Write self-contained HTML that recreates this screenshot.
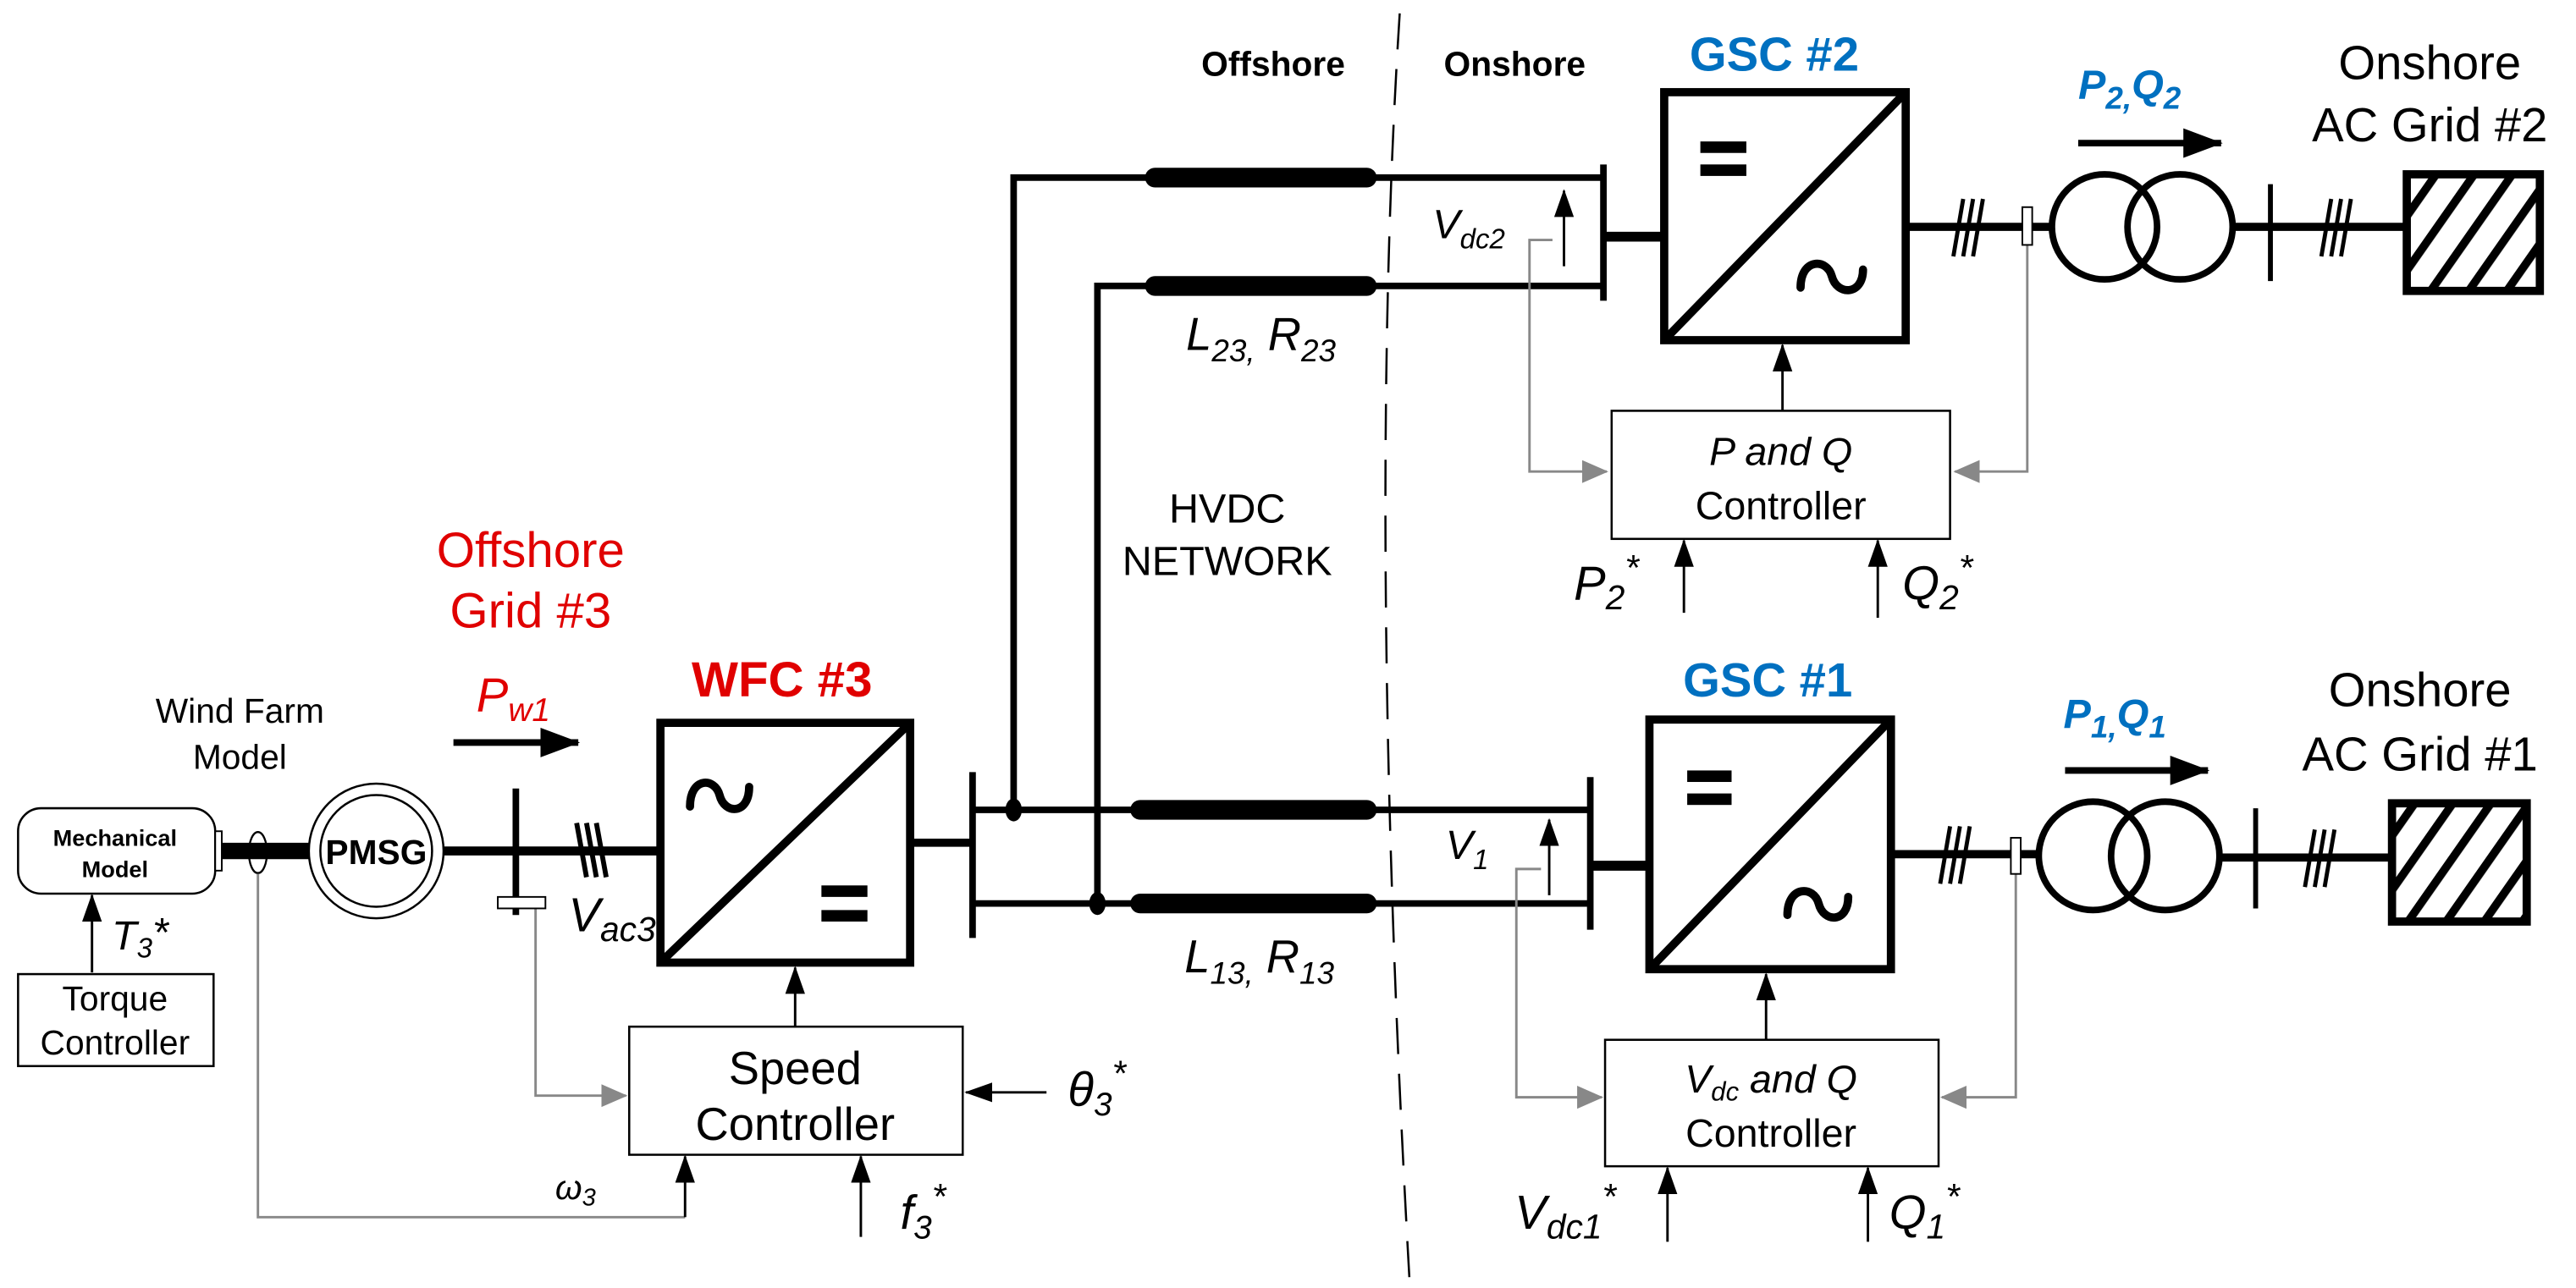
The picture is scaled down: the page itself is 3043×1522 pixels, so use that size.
<!DOCTYPE html>
<html><head><meta charset="utf-8"><style>
html,body{margin:0;padding:0;background:#fff;}
svg{display:block;}
text{font-family:"Liberation Sans",Arial,sans-serif;}
</style></head><body>
<svg width="3043" height="1522" viewBox="0 0 1568 784" xmlns="http://www.w3.org/2000/svg">
<defs>
<marker id="ab" markerWidth="17" markerHeight="12" refX="16" refY="6" orient="auto" markerUnits="userSpaceOnUse"><path d="M0,0 L17,6 L0,12 z" fill="#000"/></marker>
<marker id="ab2" markerWidth="24" markerHeight="18" refX="23" refY="9" orient="auto" markerUnits="userSpaceOnUse"><path d="M0,0 L24,9 L0,18 z" fill="#000"/></marker>
<marker id="ag" markerWidth="16" markerHeight="14" refX="15" refY="7" orient="auto" markerUnits="userSpaceOnUse"><path d="M0,0 L16,7 L0,14 z" fill="#888"/></marker>
<pattern id="hatch" width="19" height="19" patternUnits="userSpaceOnUse" patternTransform="rotate(35)"><rect width="19" height="19" fill="#fff"/><rect width="5" height="19" fill="#000"/></pattern>
</defs>

<path d="M852 8 Q832 320 858 780" fill="none" stroke="#000" stroke-width="1.3" stroke-dasharray="22,12"/>
<text x="775" y="46" font-size="21" font-weight="bold" text-anchor="middle">Offshore</text>
<text x="922" y="46" font-size="21" font-weight="bold" text-anchor="middle">Onshore</text>

<g stroke="#000" stroke-width="4" fill="none">
<path d="M976 108 L617 108 L617 493"/>
<path d="M976 174 L668 174 L668 550"/>
<path d="M592 493 L968 493"/>
<path d="M592 550 L968 550"/>
</g>
<g stroke="#000" stroke-width="12" stroke-linecap="round">
<line x1="703" y1="108" x2="832" y2="108"/>
<line x1="703" y1="174" x2="832" y2="174"/>
<line x1="694" y1="493" x2="832" y2="493"/>
<line x1="694" y1="550" x2="832" y2="550"/>
</g>
<ellipse cx="617" cy="493" rx="5" ry="7"/>
<ellipse cx="668" cy="550" rx="5" ry="7"/>
<text x="722" y="213" font-size="28" font-style="italic">L<tspan font-size="19" dy="7">23,</tspan><tspan dy="-7"> R</tspan><tspan font-size="19" dy="7">23</tspan></text>
<text x="721" y="592" font-size="28" font-style="italic">L<tspan font-size="19" dy="7">13,</tspan><tspan dy="-7"> R</tspan><tspan font-size="19" dy="7">13</tspan></text>
<text x="747" y="318" font-size="25" text-anchor="middle">HVDC</text>
<text x="747" y="350" font-size="25" text-anchor="middle">NETWORK</text>

<!-- GSC #2 -->
<text x="1080" y="43" font-size="29" font-weight="bold" fill="#0070c0" text-anchor="middle">GSC #2</text>
<line x1="976" y1="100" x2="976" y2="183" stroke="#000" stroke-width="4"/>
<line x1="976" y1="144" x2="1011" y2="144" stroke="#000" stroke-width="6"/>
<rect x="1013" y="56" width="147" height="151" fill="none" stroke="#000" stroke-width="5"/>
<line x1="1014" y1="206" x2="1159" y2="57" stroke="#000" stroke-width="5"/>
<rect x="1035" y="86" width="28" height="7"/><rect x="1035" y="100" width="28" height="7"/>
<path d="M1096 175 C1096 157 1112 157 1115 168 C1118 180 1134 180 1134 164" fill="none" stroke="#000" stroke-width="5" stroke-linecap="round"/>
<text x="872" y="145" font-size="25" font-style="italic">V<tspan font-size="17" dy="6">dc2</tspan></text>
<line x1="952" y1="162" x2="952" y2="116" stroke="#000" stroke-width="1.5" marker-end="url(#ab)"/>
<path d="M945 146 L931 146 L931 287 L978 287" fill="none" stroke="#888" stroke-width="1.5" marker-end="url(#ag)"/>
<rect x="981" y="250" width="206" height="78" fill="#fff" stroke="#000" stroke-width="1.3"/>
<text x="1084" y="283" font-size="24" font-style="italic" text-anchor="middle">P and Q</text>
<text x="1084" y="316" font-size="24" text-anchor="middle">Controller</text>
<line x1="1085" y1="250" x2="1085" y2="210" stroke="#000" stroke-width="1.5" marker-end="url(#ab)"/>
<line x1="1025" y1="373" x2="1025" y2="329" stroke="#000" stroke-width="1.5" marker-end="url(#ab)"/>
<line x1="1143" y1="376" x2="1143" y2="329" stroke="#000" stroke-width="1.5" marker-end="url(#ab)"/>
<text x="958" y="365" font-size="29" font-style="italic">P<tspan font-size="21" dy="6">2</tspan><tspan dy="-18" font-size="22">*</tspan></text>
<text x="1158" y="365" font-size="29" font-style="italic">Q<tspan font-size="21" dy="6">2</tspan><tspan dy="-18" font-size="22">*</tspan></text>
<line x1="1160" y1="138" x2="1249" y2="138" stroke="#000" stroke-width="5"/>
<g stroke="#000" stroke-width="2.5"><line x1="1189" y1="156" x2="1195" y2="121"/><line x1="1195" y1="156" x2="1201" y2="121"/><line x1="1201" y1="156" x2="1207" y2="121"/></g>
<path d="M1234 149 L1234 287 L1190 287" fill="none" stroke="#888" stroke-width="1.5" marker-end="url(#ag)"/>
<rect x="1231" y="126" width="6" height="23" fill="#fff" stroke="#000" stroke-width="1"/>
<circle cx="1281" cy="138" r="32" fill="none" stroke="#000" stroke-width="4"/>
<circle cx="1327" cy="138" r="32" fill="none" stroke="#000" stroke-width="4"/>
<line x1="1359" y1="138" x2="1465" y2="138" stroke="#000" stroke-width="5"/>
<line x1="1382" y1="112" x2="1382" y2="171" stroke="#000" stroke-width="3"/>
<g stroke="#000" stroke-width="2.5"><line x1="1413" y1="156" x2="1419" y2="121"/><line x1="1419" y1="156" x2="1425" y2="121"/><line x1="1425" y1="156" x2="1431" y2="121"/></g>
<rect x="1465" y="106" width="81" height="71" fill="url(#hatch)" stroke="#000" stroke-width="5"/>
<text x="1265" y="60" font-size="25" font-weight="bold" font-style="italic" fill="#0070c0">P<tspan font-size="19" dy="6">2,</tspan><tspan dy="-6">Q</tspan><tspan font-size="19" dy="6">2</tspan></text>
<line x1="1265" y1="87" x2="1352" y2="87" stroke="#000" stroke-width="4" marker-end="url(#ab2)"/>
<text x="1479" y="48" font-size="29" text-anchor="middle">Onshore</text>
<text x="1479" y="86" font-size="29" text-anchor="middle">AC Grid #2</text>

<!-- GSC #1 -->
<text x="1076" y="424" font-size="29" font-weight="bold" fill="#0070c0" text-anchor="middle">GSC #1</text>
<line x1="968" y1="473" x2="968" y2="566" stroke="#000" stroke-width="4"/>
<line x1="968" y1="527" x2="1002" y2="527" stroke="#000" stroke-width="6"/>
<rect x="1004" y="438" width="147" height="152" fill="none" stroke="#000" stroke-width="5"/>
<line x1="1005" y1="589" x2="1150" y2="439" stroke="#000" stroke-width="5"/>
<rect x="1027" y="469" width="27" height="7"/><rect x="1027" y="483" width="27" height="7"/>
<path d="M1088 557 C1088 539 1104 539 1107 550 C1110 562 1125 562 1125 546" fill="none" stroke="#000" stroke-width="5" stroke-linecap="round"/>
<text x="880" y="523" font-size="25" font-style="italic">V<tspan font-size="17" dy="6">1</tspan></text>
<line x1="943" y1="545" x2="943" y2="499" stroke="#000" stroke-width="1.5" marker-end="url(#ab)"/>
<path d="M938 529 L923 529 L923 668 L975 668" fill="none" stroke="#888" stroke-width="1.5" marker-end="url(#ag)"/>
<rect x="977" y="633" width="203" height="77" fill="#fff" stroke="#000" stroke-width="1.3"/>
<text x="1078" y="665" font-size="24" font-style="italic" text-anchor="middle">V<tspan font-size="16" dy="5">dc</tspan><tspan dy="-5"> and Q</tspan></text>
<text x="1078" y="698" font-size="24" text-anchor="middle">Controller</text>
<line x1="1075" y1="633" x2="1075" y2="593" stroke="#000" stroke-width="1.5" marker-end="url(#ab)"/>
<line x1="1015" y1="756" x2="1015" y2="711" stroke="#000" stroke-width="1.5" marker-end="url(#ab)"/>
<line x1="1137" y1="756" x2="1137" y2="711" stroke="#000" stroke-width="1.5" marker-end="url(#ab)"/>
<text x="922" y="748" font-size="29" font-style="italic">V<tspan font-size="21" dy="6">dc1</tspan><tspan dy="-18" font-size="22">*</tspan></text>
<text x="1150" y="748" font-size="29" font-style="italic">Q<tspan font-size="21" dy="6">1</tspan><tspan dy="-18" font-size="22">*</tspan></text>
<line x1="1151" y1="520" x2="1241" y2="520" stroke="#000" stroke-width="5"/>
<g stroke="#000" stroke-width="2.5"><line x1="1181" y1="538" x2="1187" y2="503"/><line x1="1187" y1="538" x2="1193" y2="503"/><line x1="1193" y1="538" x2="1199" y2="503"/></g>
<path d="M1227 532 L1227 668 L1182 668" fill="none" stroke="#888" stroke-width="1.5" marker-end="url(#ag)"/>
<rect x="1224" y="510" width="6" height="22" fill="#fff" stroke="#000" stroke-width="1"/>
<circle cx="1274" cy="521" r="33" fill="none" stroke="#000" stroke-width="4"/>
<circle cx="1318" cy="521" r="33" fill="none" stroke="#000" stroke-width="4"/>
<line x1="1351" y1="522" x2="1456" y2="522" stroke="#000" stroke-width="5"/>
<line x1="1373" y1="492" x2="1373" y2="553" stroke="#000" stroke-width="3"/>
<g stroke="#000" stroke-width="2.5"><line x1="1403" y1="540" x2="1409" y2="505"/><line x1="1409" y1="540" x2="1415" y2="505"/><line x1="1415" y1="540" x2="1421" y2="505"/></g>
<rect x="1456" y="489" width="82" height="72" fill="url(#hatch)" stroke="#000" stroke-width="5"/>
<text x="1256" y="443" font-size="25" font-weight="bold" font-style="italic" fill="#0070c0">P<tspan font-size="19" dy="6">1,</tspan><tspan dy="-6">Q</tspan><tspan font-size="19" dy="6">1</tspan></text>
<line x1="1257" y1="469" x2="1344" y2="469" stroke="#000" stroke-width="4" marker-end="url(#ab2)"/>
<text x="1473" y="430" font-size="29" text-anchor="middle">Onshore</text>
<text x="1473" y="469" font-size="29" text-anchor="middle">AC Grid #1</text>

<!-- WFC #3 -->
<text x="323" y="345" font-size="30" fill="#e00000" text-anchor="middle">Offshore</text>
<text x="323" y="382" font-size="30" fill="#e00000" text-anchor="middle">Grid #3</text>
<text x="476" y="424" font-size="30" font-weight="bold" fill="#e00000" text-anchor="middle">WFC #3</text>
<rect x="402" y="440" width="152" height="146" fill="none" stroke="#000" stroke-width="5"/>
<line x1="403" y1="585" x2="553" y2="441" stroke="#000" stroke-width="5"/>
<path d="M420 491 C420 473 435 473 438 484 C441 496 456 496 456 479" fill="none" stroke="#000" stroke-width="5" stroke-linecap="round"/>
<rect x="500" y="539" width="28" height="7"/><rect x="500" y="554" width="28" height="7"/>
<line x1="554" y1="513" x2="592" y2="513" stroke="#000" stroke-width="5"/>
<line x1="592" y1="470" x2="592" y2="571" stroke="#000" stroke-width="4"/>

<text x="146" y="440" font-size="21" text-anchor="middle">Wind Farm</text>
<text x="146" y="468" font-size="21" text-anchor="middle">Model</text>
<rect x="11" y="492" width="120" height="52" rx="14" fill="#fff" stroke="#000" stroke-width="1.3"/>
<text x="70" y="515" font-size="14" font-weight="bold" text-anchor="middle">Mechanical</text>
<text x="70" y="534" font-size="14" font-weight="bold" text-anchor="middle">Model</text>
<rect x="131" y="506" width="4" height="24" fill="#fff" stroke="#000" stroke-width="1"/>
<line x1="135" y1="518" x2="190" y2="518" stroke="#000" stroke-width="10"/>
<ellipse cx="157" cy="519" rx="5.5" ry="12.5" fill="none" stroke="#000" stroke-width="1.2"/>
<circle cx="229" cy="518" r="41" fill="#fff" stroke="#000" stroke-width="1.3"/>
<circle cx="229" cy="518" r="34" fill="none" stroke="#000" stroke-width="1.3"/>
<text x="229" y="526" font-size="21" font-weight="bold" text-anchor="middle">PMSG</text>
<line x1="270" y1="518" x2="402" y2="518" stroke="#000" stroke-width="5.5"/>
<line x1="314" y1="480" x2="314" y2="557" stroke="#000" stroke-width="4"/>
<g stroke="#000" stroke-width="3"><line x1="351" y1="501" x2="357" y2="534"/><line x1="357" y1="501" x2="363" y2="534"/><line x1="363" y1="501" x2="369" y2="534"/></g>
<path d="M326 553 L326 667 L381 667" fill="none" stroke="#888" stroke-width="1.5" marker-end="url(#ag)"/>
<rect x="303" y="546" width="29" height="7" fill="#fff" stroke="#000" stroke-width="1"/>
<text x="346" y="567" font-size="29" font-style="italic">V<tspan font-size="21" dy="6">ac3</tspan></text>
<text x="290" y="433" font-size="29" font-style="italic" fill="#e00000">P<tspan font-size="20" dy="6">w1</tspan></text>
<line x1="276" y1="452" x2="352" y2="452" stroke="#000" stroke-width="4" marker-end="url(#ab2)"/>
<line x1="56" y1="592" x2="56" y2="545" stroke="#000" stroke-width="1.5" marker-end="url(#ab)"/>
<text x="68" y="578" font-size="25" font-style="italic" font-family="Liberation Serif">T<tspan font-size="17" dy="5">3</tspan><tspan dy="-7" font-family="Liberation Sans">*</tspan></text>
<rect x="11" y="593" width="119" height="56" fill="#fff" stroke="#000" stroke-width="1.3"/>
<text x="70" y="615" font-size="21" text-anchor="middle">Torque</text>
<text x="70" y="642" font-size="21" text-anchor="middle">Controller</text>
<path d="M157 532 L157 741 L417 741" fill="none" stroke="#888" stroke-width="1.5"/>
<path d="M417 741 L417 704" stroke="#000" stroke-width="1.5" marker-end="url(#ab)"/>
<text x="338" y="730" font-size="21" font-style="italic" font-family="Liberation Serif">ω<tspan font-size="15" dy="4">3</tspan></text>

<rect x="383" y="625" width="203" height="78" fill="#fff" stroke="#000" stroke-width="1.3"/>
<text x="484" y="660" font-size="28" text-anchor="middle">Speed</text>
<text x="484" y="694" font-size="28" text-anchor="middle">Controller</text>
<line x1="484" y1="625" x2="484" y2="589" stroke="#000" stroke-width="1.5" marker-end="url(#ab)"/>
<line x1="637" y1="665" x2="588" y2="665" stroke="#000" stroke-width="1.5" marker-end="url(#ab)"/>
<text x="650" y="673" font-size="29" font-style="italic">θ<tspan font-size="20" dy="6">3</tspan><tspan dy="-18" font-size="22">*</tspan></text>
<line x1="524" y1="753" x2="524" y2="704" stroke="#000" stroke-width="1.5" marker-end="url(#ab)"/>
<text x="548" y="748" font-size="29" font-style="italic">f<tspan font-size="20" dy="6">3</tspan><tspan dy="-18" font-size="22">*</tspan></text>
</svg>
</body></html>
